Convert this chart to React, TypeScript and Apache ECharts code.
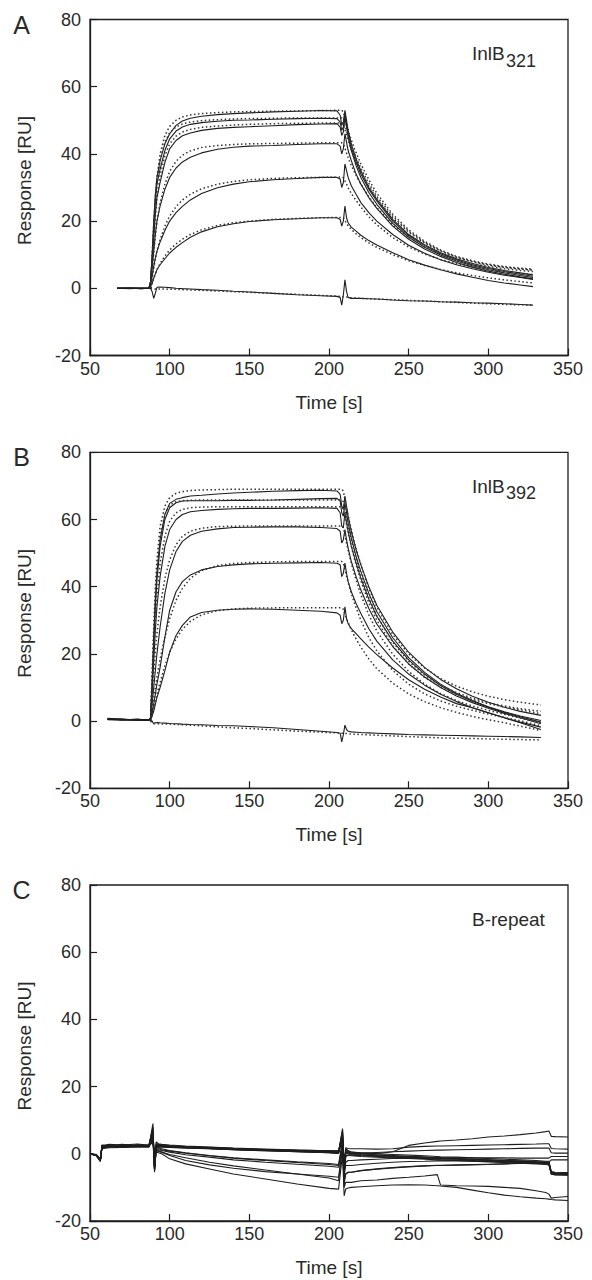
import React, { useEffect, useRef } from "react";
import * as echarts from "echarts";

// ---------- Panel A (InlB321) ----------
const TIME_A = [67, 75, 82, 87, 88, 89, 90, 91, 92, 94, 97, 100, 104, 108, 113, 120, 130, 140, 150, 165, 180, 195, 205, 207, 208, 209, 210, 211, 212, 214, 217, 220, 225, 230, 240, 250, 260, 270, 280, 290, 300, 310, 320, 328];
const A_DATA_1 = [0, 0.1, -0.1, 0, 2, 10, 20, 28, 33, 38, 43, 46, 48.5, 49.8, 50.6, 51.2, 51.7, 52, 52.2, 52.5, 52.7, 52.9, 52.8, 51.5, 48.5, 49.5, 53, 50, 47, 43, 38.5, 35, 30, 26.5, 20.5, 16, 13, 10.6, 8.8, 7.4, 6.2, 5.3, 4.6, 4];
const A_DATA_2 = [0, 0, 0.1, 0, 2, 9, 18, 26, 31, 35.5, 41, 44.5, 46.8, 48, 48.8, 49.3, 49.7, 50, 50.1, 50.3, 50.5, 50.6, 50.5, 49.5, 47, 48, 52, 49, 46, 42, 37.5, 34, 29.5, 26, 20, 15.7, 12.7, 10.3, 8.5, 7, 5.9, 5, 4.2, 3.6];
const A_DATA_3 = [0, -0.1, 0, 0.1, 2, 8, 15, 22, 27, 31.5, 37.5, 41.5, 44, 45.4, 46.2, 47, 47.6, 47.9, 48.1, 48.4, 48.7, 48.9, 49, 48, 45.5, 46.5, 51, 48, 45, 41, 36.5, 33, 28.5, 25, 19.3, 15.2, 12.2, 9.9, 8.1, 6.7, 5.5, 4.6, 3.8, 3.2];
const A_DATA_4 = [0, 0, 0, 0, 1.5, 6, 11, 16, 20, 24.5, 29.5, 33, 35.8, 37.6, 39, 40.3, 41.4, 42, 42.3, 42.5, 42.8, 43, 43, 42.3, 40, 41.5, 46, 43.5, 41, 38, 34, 31, 27, 23.8, 18.5, 14.6, 11.7, 9.5, 7.7, 6.3, 5.1, 4.2, 3.4, 2.8];
const A_DATA_5 = [0, 0.1, 0, 0, 1, 3.5, 6.5, 9, 11, 13.8, 17.2, 20, 22.5, 24.4, 26.3, 28.2, 29.9, 31, 31.7, 32.3, 32.7, 33, 33, 32.5, 30, 31.5, 37, 35, 33, 30.5, 28, 25.5, 22.5, 20, 16, 12.8, 10.4, 8.5, 7, 5.8, 4.8, 3.9, 3.2, 2.6];
const A_DATA_6 = [0, 0, -0.1, 0, 0.5, 1.5, 3, 4.3, 5.5, 7, 8.8, 10.5, 12.2, 13.6, 15.2, 16.8, 18.3, 19.2, 19.9, 20.4, 20.7, 21, 21, 20.5, 18.5, 20, 24.5, 21, 19.5, 18.2, 17, 15.8, 14.2, 12.9, 10.6, 8.5, 6.9, 5.5, 4.3, 3.3, 2.3, 1.6, 1, 0.5];
const A_DATA_7 = [0, 0, 0, 0, 0, -1, -3, -1.5, 0.3, 0.4, 0.3, 0.2, 0, -0.1, -0.2, -0.4, -0.6, -0.9, -1.1, -1.5, -1.9, -2.2, -2.4, -2.7, -5, -2, 2.5, -1, -2.7, -3, -3, -3, -3.1, -3.2, -3.5, -3.7, -3.8, -4, -4.1, -4.3, -4.4, -4.6, -4.8, -5];

const FIT_TIME_A = [88, 89, 90, 91, 92, 94, 97, 100, 104, 108, 113, 120, 130, 140, 150, 165, 180, 195, 208, 209, 211, 213, 216, 220, 225, 230, 240, 250, 260, 270, 280, 290, 300, 310, 320, 328];
const A_FIT_1 = [0, 10, 19, 27, 33, 40, 45.5, 48.2, 50, 51, 51.6, 52, 52.3, 52.5, 52.6, 52.7, 52.8, 52.9, 53, 52.5, 49, 45.5, 41.5, 37, 32.3, 28.3, 22, 17.4, 14, 11.4, 9.5, 8.2, 7.2, 6.5, 6, 5.7];
const A_FIT_2 = [0, 9, 17, 25, 31, 38, 43.5, 46.3, 48, 48.9, 49.5, 49.9, 50.2, 50.4, 50.5, 50.6, 50.7, 50.7, 50.7, 50.3, 47, 43.7, 40, 35.7, 31.2, 27.4, 21.4, 17, 13.7, 11.2, 9.3, 8, 7, 6.3, 5.8, 5.5];
const A_FIT_3 = [0, 7.5, 14.5, 21, 26.5, 33.5, 39.5, 43, 45.3, 46.5, 47.3, 47.9, 48.3, 48.6, 48.8, 49, 49.1, 49.2, 49.2, 48.8, 45.6, 42.4, 38.8, 34.7, 30.4, 26.7, 20.9, 16.7, 13.5, 11.1, 9.2, 7.9, 6.9, 6.2, 5.7, 5.4];
const A_FIT_4 = [0, 5.5, 10.5, 15.5, 19.5, 25.5, 31, 34.8, 37.8, 39.6, 40.9, 41.9, 42.5, 42.8, 43, 43.1, 43.2, 43.3, 43.3, 43, 40.3, 37.6, 34.5, 31, 27.2, 24, 18.9, 15.2, 12.4, 10.3, 8.6, 7.4, 6.5, 5.8, 5.3, 5];
const A_FIT_5 = [0, 3, 6, 8.5, 11, 14.5, 18.5, 21.5, 24.3, 26.3, 28, 29.6, 31, 31.8, 32.3, 32.7, 32.9, 33, 33.1, 32.9, 31, 29, 26.8, 24.2, 21.3, 18.9, 15.1, 12.3, 10.2, 8.6, 7.3, 6.3, 5.5, 4.9, 4.4, 4.1];
const A_FIT_6 = [0, 1.5, 3, 4.3, 5.5, 7.4, 9.6, 11.4, 13.2, 14.6, 16, 17.4, 18.7, 19.5, 20, 20.5, 20.8, 21, 21.1, 21, 19.3, 18, 16.6, 15.1, 13.5, 12.2, 10, 8.2, 6.8, 5.6, 4.6, 3.8, 3.1, 2.5, 2, 1.6];
const A_FIT_7 = [0, -0.2, -0.2, -0.2, -0.2, -0.2, -0.2, -0.3, -0.3, -0.4, -0.5, -0.6, -0.8, -1, -1.2, -1.5, -1.8, -2.1, -2.4, -2.5, -2.6, -2.8, -2.9, -3, -3.1, -3.2, -3.4, -3.6, -3.8, -4, -4.2, -4.4, -4.6, -4.8, -4.9, -5];

// ---------- Panel B (InlB392) ----------
const TIME_B = [61, 70, 80, 87, 88, 89, 90, 91, 92, 94, 97, 100, 104, 108, 113, 120, 130, 140, 150, 165, 180, 195, 205, 207, 208, 209, 210, 211, 212, 214, 217, 220, 225, 230, 240, 250, 260, 270, 280, 290, 300, 310, 320, 333];
const B_DATA_1 = [0.8, 0.5, 0.4, 0.3, 1, 12, 25, 36, 44, 54, 61.5, 64.8, 66, 66.5, 67, 67.2, 67.6, 67.9, 68.1, 68.4, 68.6, 68.7, 68.5, 67.5, 64, 63, 67, 64, 61, 56.5, 51, 46.5, 40, 34.5, 26.5, 20.5, 16, 12.4, 9.6, 7.4, 5.6, 4.1, 2.9, 1.7];
const B_DATA_2 = [0.6, 0.4, 0.5, 0.3, 1, 11, 23, 34, 42, 52, 60, 63.5, 65, 65.5, 65.6, 65.6, 65.6, 65.7, 65.7, 65.8, 66, 66.2, 66.3, 65.5, 62, 61, 65, 62, 59, 54.5, 49, 44.5, 38, 32.6, 24.8, 18.9, 14.5, 11, 8.3, 6.1, 4.3, 2.8, 1.5, 0.2];
const B_DATA_3 = [0.5, 0.6, 0.3, 0.4, 1, 9, 18, 27, 34, 43, 52, 57, 60, 61.5, 62.3, 62.7, 63, 63.2, 63.3, 63.3, 63.4, 63.5, 63.3, 62, 58, 57.5, 62, 59, 56.5, 52, 47, 42.5, 36.3, 31.2, 23.8, 18.2, 14, 10.6, 8, 5.9, 4.1, 2.6, 1.3, -0.3];
const B_DATA_4 = [0.7, 0.4, 0.5, 0.2, 0.5, 5, 10, 15, 20, 28, 38, 45, 50.5, 53.5, 55.3, 56.5, 57.2, 57.6, 57.7, 57.8, 57.8, 57.6, 57.3, 56.5, 53, 54, 57, 54, 51.5, 47.5, 43, 39, 33.5, 28.9, 22.2, 17, 13.1, 10, 7.5, 5.5, 3.8, 2.3, 1, -0.8];
const B_DATA_5 = [0.6, 0.5, 0.3, 0.4, 0.5, 2.5, 5, 8, 11, 16, 25, 33, 38.5, 41.5, 43.5, 45, 46, 46.5, 46.8, 47, 47.1, 47.2, 47, 46.5, 43, 44, 47, 44, 41.5, 38.5, 35, 32, 27.5, 23.8, 18.2, 14, 10.7, 8, 5.8, 4, 2.5, 1, -0.3, -1.8];
const B_DATA_6 = [0.5, 0.3, 0.5, 0.3, 0.5, 1.5, 3, 5, 7, 10, 15, 20.5, 25.5, 28.5, 31, 32.3, 33, 33.3, 33.4, 33.3, 33, 32.7, 32.2, 31.5, 29, 30, 34, 30.5, 29, 27.5, 26, 24.5, 22, 19.8, 15.8, 12.3, 9.5, 7.2, 5.2, 4, 2.5, 1, -0.5, -2.5];
const B_DATA_7 = [0.4, 0.5, 0.3, 0.3, 0.5, 0, -0.8, -0.5, -0.4, -0.5, -0.6, -0.7, -0.8, -0.9, -1, -1.1, -1.3, -1.4, -1.6, -2, -2.5, -3, -3.4, -3.6, -6.2, -4, -1.2, -2.5, -3, -3.2, -3.3, -3.4, -3.5, -3.6, -3.8, -4, -4.1, -4.2, -4.3, -4.4, -4.5, -4.6, -4.7, -4.9];

const FIT_TIME_B = [88, 89, 90, 91, 92, 94, 97, 100, 104, 108, 113, 120, 130, 140, 150, 165, 180, 195, 208, 209, 211, 213, 216, 220, 225, 230, 240, 250, 260, 270, 280, 290, 300, 310, 320, 333];
const B_FIT_1 = [0, 14, 28, 40, 48, 58, 64, 66.5, 67.8, 68.3, 68.6, 68.8, 68.9, 69, 69, 69, 69, 69, 69, 68.5, 63.5, 59, 53, 46.5, 39.5, 34, 25.8, 20, 15.8, 12.7, 10.4, 8.7, 7.4, 6.4, 5.6, 4.8];
const B_FIT_2 = [0, 13, 26, 37, 45, 55, 61.5, 64.3, 65.3, 65.6, 65.7, 65.8, 65.8, 65.8, 65.8, 65.8, 65.8, 65.8, 65.8, 65.3, 60.5, 56, 50, 43.5, 36.8, 31.4, 23.5, 17.8, 13.7, 10.7, 8.5, 6.8, 5.5, 4.5, 3.7, 2.9];
const B_FIT_3 = [0, 11, 21, 30, 37, 47, 55, 59.5, 62, 63, 63.5, 63.7, 63.8, 63.8, 63.8, 63.8, 63.8, 63.8, 63.8, 63.3, 58.5, 54, 48.2, 41.8, 35.2, 30, 22.4, 17, 13, 10.1, 8, 6.4, 5.2, 4.2, 3.4, 2.2];
const B_FIT_4 = [0, 7, 14, 20.5, 26, 34, 42.5, 48, 52.5, 55, 56.5, 57.4, 57.9, 58, 58.1, 58.1, 58.1, 58.1, 58.1, 57.6, 53, 48.8, 43.5, 37.6, 31.6, 26.8, 19.9, 14.8, 11, 8.2, 6.1, 4.5, 3.2, 2, 0.9, -0.5];
const B_FIT_5 = [0, 3.5, 7, 10, 13, 18.5, 25, 30.5, 36, 39.5, 42.5, 44.8, 46.3, 46.9, 47.2, 47.4, 47.5, 47.5, 47.5, 47, 43.2, 39.6, 35, 30, 24.9, 20.9, 15.1, 11, 8.1, 6, 4.4, 3.2, 2.1, 1.1, 0.1, -1.4];
const B_FIT_6 = [0, 2, 4, 6, 8, 11.5, 16.5, 20.5, 24.5, 27.3, 29.7, 31.6, 32.9, 33.4, 33.6, 33.7, 33.7, 33.7, 33.7, 33.3, 30.5, 28.2, 25.3, 22, 18.5, 15.6, 11.3, 8.1, 5.8, 4, 2.6, 1.4, 0.4, -0.5, -1.5, -2.8];
const B_FIT_7 = [0, -0.5, -0.7, -0.8, -0.8, -0.8, -0.9, -0.9, -1, -1.1, -1.2, -1.4, -1.7, -2, -2.2, -2.6, -3, -3.3, -3.6, -3.6, -3.7, -3.8, -3.9, -4, -4.1, -4.2, -4.4, -4.6, -4.8, -5, -5.1, -5.2, -5.3, -5.4, -5.5, -5.6];

// ---------- Panel C (B-repeat) ----------
const TIME_C = [50, 54, 56.5, 57.5, 62, 70, 80, 87, 89.5, 90.5, 91.5, 93, 95, 100, 110, 125, 140, 160, 180, 200, 206, 208.5, 209.5, 210.5, 212, 214, 220, 230, 240, 250, 260, 268, 270, 280, 290, 300, 310, 320, 330, 336, 338, 339.5, 342, 350];
const C_DATA_1 = [0, -0.5, -2, 2, 2.5, 2.2, 2.6, 2.4, 8, -5, 3, 2.8, 2.6, 2.4, 2.1, 1.8, 1.5, 1.2, 1, 0.7, 0.6, 7, -6, 1, 0.5, 0.2, 0, -0.3, -0.5, -0.8, -1, -1.2, -1.2, -1.4, -1.6, -1.8, -2, -2.2, -2.4, -2.6, -2.6, -5.5, -5.8, -6];
const C_DATA_2 = [0, -0.3, -1.8, 1.8, 2, 2.5, 2.2, 2.2, 9, -5.5, 2, 2.5, 2.4, 2.3, 2, 1.7, 1.4, 1.1, 0.8, 0.5, 0.4, 7.5, -5, 0, 0, -0.2, -0.4, -0.6, -0.8, -1, -1.2, -1.4, -1.5, -1.6, -1.8, -2, -2.2, -2.4, -2.6, -2.8, -2.9, -5.8, -6, -6.2];
const C_DATA_3 = [0, -0.6, -2.2, 2.4, 2.8, 2.6, 2.9, 2.5, 6, -4, 2.5, 2.2, 2.2, 2, 1.9, 1.6, 1.3, 1, 0.7, 0.4, 0.2, 6, -8, -1, -0.3, -0.4, -0.6, -0.8, -1, -1.2, -1.4, -1.6, -1.7, -1.8, -2, -2.2, -2.4, -2.6, -2.8, -3, -3.1, -6, -6.2, -6.3];
const C_DATA_4 = [0, -0.4, -1.5, 1.5, 1.8, 1.9, 2, 2, 5, -3, 2, 2, 2, 1.9, 1.7, 1.5, 1.2, 0.9, 0.6, 0.3, 0.2, 5, -4, 0.5, 0.3, 0, -0.2, -0.4, -0.6, -0.8, -1, -1.2, -1.3, -1.4, -1.6, -1.8, -2, -2.1, -2.3, -2.4, -2.5, -5.3, -5.5, -5.6];
const C_DATA_5 = [0, -0.5, -2, 2.2, 2.3, 2.8, 2.4, 2.7, 7, -4.5, 3.5, 3, 2.8, 2.6, 2.3, 2, 1.7, 1.4, 1.1, 0.9, 0.8, 6.5, -7, 1.5, 1, 0.5, 0.3, 0, -0.2, -0.4, -0.6, -0.8, -0.9, -1, -1.2, -1.4, -1.6, -1.8, -2, -2.2, -2.2, -5.4, -5.7, -5.9];
const C_DATA_6 = [0, -0.2, -1.6, 2.6, 2.4, 2.3, 2.5, 2.3, 4, -2, 2, 2.2, 2.1, 2, 1.8, 1.5, 1.2, 0.9, 0.6, 0.3, 0.1, 4.5, -3, -0.5, -0.5, -0.6, -0.8, -1, -1.2, -1.4, -1.6, -1.8, -1.9, -2, -2.2, -2.4, -2.6, -2.8, -3, -3.2, -3.3, -6.1, -6.3, -6.4];
const C_DATA_7 = [0, -0.4, -1.9, 2, 2.2, 2.4, 2.2, 2.3, 5, -3, 2.5, 2.4, 2.3, 2.2, 2, 1.8, 1.5, 1.2, 1, 0.8, 0.7, 5, -3, 1, 0.8, 0.5, 0.2, 0, 0.6, 2.5, 3.2, 3.7, 3.8, 4.1, 4.5, 5, 5.3, 5.7, 6.2, 6.6, 6.8, 5.2, 5.1, 5];
const C_DATA_8 = [0, -0.3, -1.7, 2.1, 2.6, 2.3, 2.4, 2.6, 6.5, -3.5, 2.8, 2.6, 2.5, 2.3, 2.1, 1.9, 1.6, 1.3, 1.1, 0.9, 0.9, 4, -2, 1.8, 1.6, 1.5, 1.5, 1.4, 1.5, 2, 2.2, 2.3, 2.3, 2.4, 2.5, 2.6, 2.7, 2.8, 2.9, 3, 3, 1.6, 1.5, 1.4];
const C_DATA_9 = [0, -0.5, -2.1, 1.9, 2.1, 2.7, 2.3, 2.4, 7.5, -4, 2.2, 2.3, 2.2, 2.1, 1.9, 1.6, 1.3, 1.1, 0.9, 0.6, 0.5, 5.5, -4, 0.3, 0.1, 0, 0.2, 0.4, 0.6, 0.8, 1, 1.1, 1.1, 1.2, 1.3, 1.4, 1.5, 1.6, 1.7, 1.7, 1.7, 0.3, 0.2, 0.2];
const C_DATA_10 = [0, -0.5, -2, 2, 2.2, 2, 2.3, 2.1, 6, -4, 1.5, 1.5, 1.2, 0.8, 0.2, -0.6, -1.3, -2, -2.6, -3.2, -3.5, 3, -6, -2.5, -2, -2, -1.8, -1.6, -1.4, -1.3, -1.2, -1.2, -1.2, -1.2, -1.2, -1.2, -1.2, -1.3, -1.3, -1.3, -1.3, -0.8, -0.8, -0.8];
const C_DATA_11 = [0, -0.4, -1.8, 2.3, 2.5, 2.1, 2.4, 2.2, 5.5, -4.5, 1.3, 1.2, 1, 0.5, -0.3, -1, -1.8, -2.5, -3.1, -3.7, -4, 3, -8, -6, -5.5, -5.5, -5, -4.5, -4.1, -3.8, -3.6, -3.5, -3.5, -3.4, -3.3, -3.2, -3, -2.8, -2.6, -2.5, -2.5, -1.8, -1.8, -1.8];
const C_DATA_12 = [0, -0.6, -2.3, 2.2, 2.4, 2.5, 2.2, 2.3, 4.5, -5, 1, 0.8, 0.5, -0.5, -2, -3.3, -4.3, -5.3, -6, -6.7, -7, 2, -10, -8.5, -8.5, -8.5, -8, -7.8, -7.3, -7, -6.6, -6.2, -9.3, -9.5, -9.6, -9.7, -10, -10.3, -11, -11.5, -12, -13.2, -13, -12.7];
const C_DATA_13 = [0, -0.3, -1.9, 2.5, 2.3, 2.4, 2.6, 2.4, 3.5, -4, 0.5, 0.3, 0, -1.5, -3, -4.5, -6, -7.5, -9, -10.3, -10.5, 0, -12.5, -10.5, -10.2, -10, -9.8, -9.5, -9.3, -9.2, -9.3, -9.5, -9.6, -10, -10.8, -11.6, -12.3, -12.8, -13.2, -13.4, -13.5, -13.6, -13.7, -13.9];
const C_DATA_14 = [0, -0.5, -2, 2, 2.3, 2.2, 2.5, 2.2, 6, -4.5, 1, 0.8, 0.5, -0.2, -1.2, -2.5, -3.6, -4.8, -6, -7.2, -8, 2, -9, -6, -5.5, -5.5, -5, -4.6, -4.2, -3.9, -3.6, -3.4, -3.4, -3.3, -3.2, -3.1, -3, -2.9, -2.8, -2.7, -2.7, -5.8, -6, -6.1];
const C_DATA_15 = [0, -0.4, -1.7, 2.4, 2.6, 2.4, 2.3, 2.5, 5, -3.5, 2, 1.8, 1.5, 1, 0.3, -0.5, -1.2, -1.8, -2.4, -2.9, -3.2, 4, -5, -3.5, -3.5, -3.5, -3.2, -2.8, -2.5, -2.3, -2.2, -2.1, -2.1, -2.1, -2.2, -2.3, -2.4, -2.5, -2.6, -2.7, -2.7, -5.6, -5.9, -6];

// ---------- axes ----------
const X_MIN = 50, X_MAX = 350, X_STEP = 50;
const Y_MIN = -20, Y_MAX = 80, Y_STEP = 20;
const X_TITLE = "Time [s]";
const Y_TITLE = "Response [RU]";

const PANELS = [
  { top: 19.5, letter: "A", name: "InlB", sub: "321", curves: [A_DATA_1, A_DATA_2, A_DATA_3, A_DATA_4, A_DATA_5, A_DATA_6, A_DATA_7], time: TIME_A, fits: [A_FIT_1, A_FIT_2, A_FIT_3, A_FIT_4, A_FIT_5, A_FIT_6, A_FIT_7], fitTime: FIT_TIME_A },
  { top: 452.3, letter: "B", name: "InlB", sub: "392", curves: [B_DATA_1, B_DATA_2, B_DATA_3, B_DATA_4, B_DATA_5, B_DATA_6, B_DATA_7], time: TIME_B, fits: [B_FIT_1, B_FIT_2, B_FIT_3, B_FIT_4, B_FIT_5, B_FIT_6, B_FIT_7], fitTime: FIT_TIME_B },
  { top: 885, letter: "C", name: "B-repeat", sub: "", curves: [C_DATA_1, C_DATA_2, C_DATA_3, C_DATA_4, C_DATA_5, C_DATA_6, C_DATA_7, C_DATA_8, C_DATA_9, C_DATA_10, C_DATA_11, C_DATA_12, C_DATA_13, C_DATA_14, C_DATA_15], time: TIME_C, fits: [], fitTime: [] },
];

const GRID_LEFT = 90;
const GRID_WIDTH = 478;
const GRID_HEIGHT = 336;
const FONT = "'Liberation Sans', Arial, Helvetica, sans-serif";
const TEXT_COLOR = "#2a2a2a";
const LINE_COLOR = "#1e1e1e";

export default function App() {
  const ref = useRef<HTMLDivElement>(null);

  useEffect(() => {
    if (!ref.current) return;
    const chart = echarts.init(ref.current, undefined, { renderer: "svg" });

    const grid: any[] = [];
    const xAxis: any[] = [];
    const yAxis: any[] = [];
    const series: any[] = [];
    const graphic: any[] = [];

    PANELS.forEach((p, idx) => {
      grid.push({
        left: GRID_LEFT, top: p.top, width: GRID_WIDTH, height: GRID_HEIGHT,
        show: true, borderColor: LINE_COLOR, borderWidth: 1.3, backgroundColor: "transparent",
      });
      xAxis.push({
        type: "value", gridIndex: idx, min: X_MIN, max: X_MAX, interval: X_STEP,
        name: X_TITLE, nameLocation: "middle", nameGap: 37,
        nameTextStyle: { fontSize: 19, color: TEXT_COLOR, fontFamily: FONT },
        axisLine: { show: true, onZero: false, lineStyle: { color: LINE_COLOR, width: 1.3 } },
        axisTick: { show: true, inside: true, length: 7, lineStyle: { color: LINE_COLOR, width: 1.2 } },
        axisLabel: { fontSize: 18, color: TEXT_COLOR, fontFamily: FONT, margin: 4 },
        splitLine: { show: false },
      });
      yAxis.push({
        type: "value", gridIndex: idx, min: Y_MIN, max: Y_MAX, interval: Y_STEP,
        name: Y_TITLE, nameLocation: "middle", nameGap: 56, nameRotate: 90,
        nameTextStyle: { fontSize: 19, color: TEXT_COLOR, fontFamily: FONT, padding: [0, 0, 0, 14] },
        axisLine: { show: true, onZero: false, lineStyle: { color: LINE_COLOR, width: 1.3 } },
        axisTick: { show: true, inside: true, length: 7, lineStyle: { color: LINE_COLOR, width: 1.2 } },
        axisLabel: { fontSize: 18, color: TEXT_COLOR, fontFamily: FONT, margin: 9 },
        splitLine: { show: false },
      });

      p.curves.forEach((vals) => {
        series.push({
          type: "line", xAxisIndex: idx, yAxisIndex: idx,
          data: p.time.map((t, i) => [t, vals[i]]),
          symbol: "none", silent: true, z: 2,
          lineStyle: { color: LINE_COLOR, width: 1.1 },
        });
      });
      p.fits.forEach((vals) => {
        series.push({
          type: "line", xAxisIndex: idx, yAxisIndex: idx,
          data: p.fitTime.map((t, i) => [t, vals[i]]),
          symbol: "none", silent: true, z: 3,
          lineStyle: { color: "#333", width: 1.5, type: [1.5, 2.5] },
        });
      });

      graphic.push({
        type: "text", x: 21.5, y: p.top + 5,
        style: { text: p.letter, fill: TEXT_COLOR, font: `25px ${FONT}`, align: "center", verticalAlign: "middle" },
      });
      graphic.push({
        type: "text", x: 472, y: p.top + 34,
        style: { text: p.name, fill: TEXT_COLOR, font: `19px ${FONT}`, align: "left", verticalAlign: "middle" },
      });
      if (p.sub) {
        graphic.push({
          type: "text", x: 506, y: p.top + 41,
          style: { text: p.sub, fill: TEXT_COLOR, font: `18px ${FONT}`, align: "left", verticalAlign: "middle" },
        });
      }
    });

    chart.setOption({
      animation: false,
      backgroundColor: "#ffffff",
      grid, xAxis, yAxis, series, graphic,
    });

    return () => chart.dispose();
  }, []);

  return (
    <div
      ref={ref}
      style={{ position: "absolute", left: 0, top: 0, width: 592, height: 1280 }}
    />
  );
}
